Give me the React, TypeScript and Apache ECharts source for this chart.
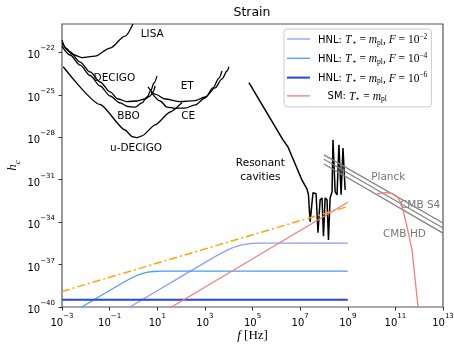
import { useEffect, useRef } from 'react';
import * as echarts from 'echarts';

type Pt = [number, number];

// All points are [log10(f / Hz), log10(h_c)]
const xTicks = [-3, -1, 1, 3, 5, 7, 9, 11, 13];
const yTicks = [-40, -37, -34, -31, -28, -25, -22];

const lisa: Pt[] = [[-3, -21.14], [-2.83, -21.7], [-2.58, -22.13], [-2.16, -22.37], [-1.61, -22.27], [-0.98, -21.7], [-0.35, -20.85], [-0.02, -20.0]];
const decigo: Pt[] = [[-3, -21.35], [-2.66, -21.98], [-2.24, -22.69], [-1.82, -23.39], [-1.4, -24.1], [-0.98, -24.8], [-0.65, -25.3], [-0.27, -25.48], [0.15, -25.44], [0.49, -25.3], [0.7, -25.09], [0.82, -24.8], [0.91, -24.38]];
const bbo: Pt[] = [[-3, -21.56], [-2.66, -22.19], [-2.24, -22.9], [-1.82, -23.64], [-1.4, -24.38], [-0.98, -25.09], [-0.56, -25.58], [-0.23, -25.83], [0.07, -25.87], [0.36, -25.58], [0.57, -25.16], [0.74, -24.66], [0.86, -24.17], [0.99, -23.68]];
const uDecigo: Pt[] = [[-2.95, -23.02], [-1.4, -25.69], [-0.35, -27.49], [-0.06, -27.95], [0.15, -28.03], [0.36, -27.91], [0.91, -27.13], [1.54, -26.22], [2.04, -25.55]];
const et: Pt[] = [[0.61, -24.45], [0.91, -24.95], [1.33, -25.3], [1.96, -25.48], [2.59, -25.41], [3.01, -25.16], [3.43, -24.52], [3.72, -23.88], [3.93, -23.32], [4.01, -23.02]];
const ce: Pt[] = [[0.74, -24.8], [1.12, -25.44], [1.41, -25.87], [1.75, -25.96], [2.17, -25.94], [2.59, -25.72], [3.01, -25.23], [3.34, -24.52], [3.59, -23.82], [3.72, -23.32]];
const cavities: Pt[] = [[4.85, -24.15], [6.28, -28.19], [6.49, -28.69], [7.08, -31.04], [7.29, -31.67], [7.35, -32.07], [7.42, -33.98], [7.54, -31.93], [7.67, -32.0], [7.75, -34.75], [7.84, -32.43], [7.92, -32.29], [7.98, -35.0], [8.05, -32.29], [8.13, -32.43], [8.19, -35.27], [8.26, -32.29], [8.34, -31.86], [8.38, -28.19], [8.47, -31.86], [8.55, -32.07], [8.63, -28.54], [8.72, -32.07], [8.8, -28.76], [8.89, -31.72]];

const planck: Pt[] = [[8, -29.25], [13, -34.07]];
const cmbS4: Pt[] = [[8, -29.56], [13, -34.42]];
const cmbHD: Pt[] = [[8, -29.89], [13, -34.78]];

const hnlF2: Pt[] = [[-0.15, -40], [1, -38.85], [2, -37.85], [3, -36.86], [3.4, -36.47], [3.7, -36.19], [4.0, -35.93], [4.25, -35.76], [4.5, -35.63], [4.75, -35.55], [5.0, -35.51], [5.4, -35.49], [6, -35.48], [9, -35.48]];
const hnlF4: Pt[] = [[-2.17, -40], [-1, -38.83], [-0.5, -38.34], [-0.2, -38.06], [0, -37.88], [0.2, -37.73], [0.4, -37.62], [0.6, -37.54], [0.85, -37.49], [1.2, -37.47], [2, -37.46], [9, -37.46]];
const hnlF6: Pt[] = [[-3, -39.48], [9, -39.48]];
const smLow: Pt[] = [[1.6, -40], [9, -32.6]];
const smHigh: Pt[] = [[10.23, -32.0], [10.45, -31.93], [10.69, -31.91], [10.9, -32.0], [11.07, -32.19], [11.2, -32.55], [11.32, -33.13], [11.49, -34.33], [11.7, -35.96], [11.95, -39.98], [12.0, -40.6]];
const bound: Pt[] = [[-3, -38.9], [9, -32.9]];

const curveLabels = [
  { text: 'LISA', x: 0.79, y: -20.66, color: '#000' },
  { text: 'DECIGO', x: -0.8, y: -23.73, color: '#000' },
  { text: 'ET', x: 2.26, y: -24.31, color: '#000' },
  { text: 'BBO', x: -0.21, y: -26.43, color: '#000' },
  { text: 'CE', x: 2.3, y: -26.43, color: '#000' },
  { text: 'u-DECIGO', x: 0.11, y: -28.71, color: '#000' },
  { text: 'Resonant\ncavities', x: 5.33, y: -30.24, color: '#000' },
  { text: 'Planck', x: 10.7, y: -30.73, color: '#777' },
  { text: 'CMB S4', x: 12.04, y: -32.73, color: '#777' },
  { text: 'CMB HD', x: 11.38, y: -34.74, color: '#777' },
];

const SANS = 'DejaVu Sans';
const SERIF = 'Liberation Serif';

const powLabel = (v: number) => `{b|10}{s|${v < 0 ? '\u2212' : ''}${Math.abs(v)}}`;
const tickRich = {
  b: { fontFamily: SANS, fontSize: 10, color: '#000', lineHeight: 15, verticalAlign: 'bottom' },
  s: { fontFamily: SANS, fontSize: 7, color: '#000', lineHeight: 10, verticalAlign: 'top' },
};

const legendNames: Record<string, string> = {
  hnl2: '{t|HNL: }{i|T}{sub|\u22c6}{r| = }{i|m}{sub|pl}{r|, }{i|F}{r| = 10}{sup|\u22122}',
  hnl4: '{t|HNL: }{i|T}{sub|\u22c6}{r| = }{i|m}{sub|pl}{r|, }{i|F}{r| = 10}{sup|\u22124}',
  hnl6: '{t|HNL: }{i|T}{sub|\u22c6}{r| = }{i|m}{sub|pl}{r|, }{i|F}{r| = 10}{sup|\u22126}',
  sm: '{t|   SM: }{i|T}{sub|\u22c6}{r| = }{i|m}{sub|pl}',
};

// thin bar used as a line sample in the legend
const lineIcon = (w: number) => `path://M0,0 L23,0 L23,${w} L0,${w} Z`;

const black = (data: Pt[], smooth: number | boolean = 0.3, width = 1.3) => ({
  type: 'line', data, symbol: 'none', smooth, smoothMonotone: 'x',
  lineStyle: { color: '#000', width }, silent: true,
});
const gray = (data: Pt[]) => ({
  type: 'line', data, symbol: 'none', lineStyle: { color: '#808080', width: 1.2 }, silent: true,
});

export default function App() {
  const ref = useRef<HTMLDivElement>(null);
  useEffect(() => {
    if (!ref.current) return;
    const chart = echarts.init(ref.current, undefined, { renderer: 'svg' });
    const option: any = {
      animation: false,
      title: {
        text: 'Strain', left: 252, top: 5, textAlign: 'center', padding: 0,
        textStyle: { fontFamily: SANS, fontSize: 12.5, fontWeight: 'normal', color: '#000' },
      },
      grid: {
        left: 62, right: 11, top: 24, bottom: 38, containLabel: false, outerBoundsMode: 'none',
        show: true, borderColor: '#555', borderWidth: 1.2,
      },
      xAxis: {
        type: 'value', min: -3, max: 13,
        axisLine: { show: false, onZero: false }, splitLine: { show: false },
        axisTick: { customValues: xTicks, length: 3.5, lineStyle: { color: '#333', width: 1 } },
        axisLabel: { customValues: xTicks, formatter: powLabel, rich: tickRich, margin: 5 },
        name: '{i|f} {r|[Hz]}', nameLocation: 'middle', nameGap: 20, nameMoveOverlap: false,
        nameTextStyle: {
          rich: {
            i: { fontFamily: SERIF, fontStyle: 'italic', fontSize: 13, color: '#000', lineHeight: 15 },
            r: { fontFamily: SERIF, fontSize: 13, color: '#000', lineHeight: 15 },
          },
        },
      },
      yAxis: {
        type: 'value', min: -40, max: -20,
        axisLine: { show: false, onZero: false }, splitLine: { show: false },
        axisTick: { customValues: yTicks, length: 3.5, lineStyle: { color: '#333', width: 1 } },
        axisLabel: { customValues: yTicks, formatter: powLabel, rich: tickRich, margin: 7 },
        name: '{i|h}{sub|c}', nameLocation: 'middle', nameGap: 41, nameMoveOverlap: false,
        nameTextStyle: {
          rich: {
            i: { fontFamily: SERIF, fontStyle: 'italic', fontSize: 13, color: '#000', lineHeight: 16, verticalAlign: 'top' },
            sub: { fontFamily: SERIF, fontStyle: 'italic', fontSize: 9, color: '#000', lineHeight: 10, verticalAlign: 'bottom' },
          },
        },
      },
      legend: {
        data: [
          { name: 'hnl2', icon: lineIcon(1.3) },
          { name: 'hnl4', icon: lineIcon(1.3) },
          { name: 'hnl6', icon: lineIcon(2) },
          { name: 'sm', icon: lineIcon(1.3) },
        ],
        orient: 'vertical', left: 284, top: 29,
        padding: [3, 4, 4, 3], itemGap: 5.3, itemWidth: 23, itemHeight: 14,
        backgroundColor: 'rgba(255,255,255,0.85)', borderColor: '#ccc', borderWidth: 1, borderRadius: 3,
        formatter: (n: string) => legendNames[n],
        textStyle: {
          padding: [0, 0, 0, 3],
          rich: {
            t: { fontFamily: SANS, fontSize: 10, color: '#000', lineHeight: 14 },
            i: { fontFamily: SERIF, fontStyle: 'italic', fontSize: 11.5, color: '#000' },
            r: { fontFamily: SERIF, fontSize: 11.5, color: '#000' },
            sub: { fontFamily: SERIF, fontSize: 7.5, color: '#000', verticalAlign: 'bottom', lineHeight: 9 },
            sup: { fontFamily: SERIF, fontSize: 7.5, color: '#000', verticalAlign: 'top', lineHeight: 10 },
          },
        },
      },
      series: [
        black(lisa), black(decigo), black(bbo), black(uDecigo, 0.2), black(et), black(ce),
        black(cavities, false, 1.5),
        gray(planck), gray(cmbS4), gray(cmbHD),
        {
          type: 'line', data: bound, symbol: 'none', silent: true,
          lineStyle: { color: '#ffa500', width: 1.5, type: [8, 3, 2, 3] },
        },
        {
          name: 'hnl2', type: 'line', data: hnlF2, symbol: 'none',
          itemStyle: { color: '#8a9cfb' }, lineStyle: { color: '#8a9cfb', width: 1.3 },
        },
        {
          name: 'hnl4', type: 'line', data: hnlF4, symbol: 'none',
          itemStyle: { color: '#4a9cf5' }, lineStyle: { color: '#4a9cf5', width: 1.3 },
        },
        {
          name: 'hnl6', type: 'line', data: hnlF6, symbol: 'none',
          itemStyle: { color: '#2646e6' }, lineStyle: { color: '#2646e6', width: 2 },
        },
        {
          name: 'sm', type: 'line', data: smLow, symbol: 'none',
          itemStyle: { color: '#f07f7f' }, lineStyle: { color: '#f07f7f', width: 1.3 },
        },
        {
          name: 'sm', type: 'line', data: smHigh, symbol: 'none',
          itemStyle: { color: '#f07f7f' }, lineStyle: { color: '#f07f7f', width: 1.3 },
        },
      ],
    };
    chart.setOption(option);

    const graphic = curveLabels.map((l) => {
      const [px, py] = chart.convertToPixel({ xAxisIndex: 0, yAxisIndex: 0 }, [l.x, l.y]);
      return {
        type: 'text', x: px, y: py, silent: true,
        style: {
          text: l.text, fill: l.color, font: `10.5px "${SANS}"`,
          align: 'center', verticalAlign: 'middle', lineHeight: 14,
        },
      };
    });
    chart.setOption({ graphic });

    return () => chart.dispose();
  }, []);

  return <div ref={ref} style={{ position: 'fixed', left: 0, top: 0, width: 454, height: 345 }} />;
}
